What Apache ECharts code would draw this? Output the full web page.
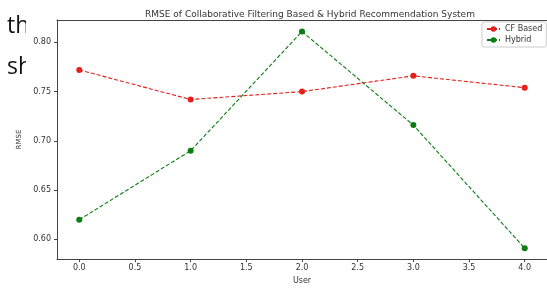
<!DOCTYPE html>
<html>
<head>
<meta charset="utf-8">
<script src="https://cdn.jsdelivr.net/npm/echarts@6/dist/echarts.min.js"></script>
<style>
  html, body { margin: 0; padding: 0; background: #fff; }
  #main { width: 547px; height: 290px; }
</style>
</head>
<body>
<div id="main"></div>
<script>
// data
var users = [0, 1, 2, 3, 4];
var cfBased = [0.772, 0.742, 0.750, 0.766, 0.754];
var hybrid = [0.620, 0.690, 0.811, 0.716, 0.591];
var xTicks = [0.0, 0.5, 1.0, 1.5, 2.0, 2.5, 3.0, 3.5, 4.0];
var yTicks = [0.60, 0.65, 0.70, 0.75, 0.80];

function pairs(xs, ys) {
  var out = [];
  for (var i = 0; i < xs.length; i++) out.push([xs[i], ys[i]]);
  return out;
}

var chart = echarts.init(document.getElementById('main'));
var font = 'DejaVu Sans';
var option = {
  backgroundColor: '#fff',
  animation: false,
  title: {
    text: 'RMSE of Collaborative Filtering Based & Hybrid Recommendation System',
    left: 305, top: 5, textAlign: 'center',
    textStyle: { fontFamily: font, fontSize: 9, fontWeight: 'normal', color: '#333' }
  },
  graphic: [
    { type: 'text', left: 7, top: 15, z: -3,
      style: { text: 'the', font: '23px "Open Sans"', fill: '#111' } },
    { type: 'text', left: 7, top: 56, z: -3,
      style: { text: 'show', font: '23px "Open Sans"', fill: '#111' } },
    { type: 'rect', left: 26, top: 0, z: -2,
      shape: { width: 521, height: 290 }, style: { fill: '#fff' } }
  ],
  legend: {
    orient: 'vertical', left: 482, top: 22,
    itemWidth: 13, itemHeight: 7, itemGap: 3,
    padding: [3, 4, 3, 4],
    backgroundColor: '#fff', borderColor: '#ccc', borderWidth: 1, borderRadius: 2,
    textStyle: { fontFamily: font, fontSize: 8, color: '#333' },
    data: ['CF Based', 'Hybrid']
  },
  grid: { left: 57, right: 0, top: 20, bottom: 24 },
  xAxis: [{
    type: 'value', min: -0.2, max: 4.2,
    name: 'User', nameLocation: 'middle', nameGap: 16,
    nameTextStyle: { fontFamily: font, fontSize: 8, color: '#333' },
    axisLine: { onZero: false, lineStyle: { color: '#444' } },
    axisTick: { show: true, length: 3, customValues: xTicks, lineStyle: { color: '#444' } },
    axisLabel: { customValues: xTicks, fontFamily: font, fontSize: 8, color: '#333', margin: 5,
      formatter: function (v) { return v.toFixed(1); } },
    splitLine: { show: false }
  }, {
    // top spine only
    type: 'value', position: 'top', min: -0.2, max: 4.2,
    axisLine: { show: true, onZero: false, lineStyle: { color: '#444' } },
    axisTick: { show: false }, axisLabel: { show: false }, splitLine: { show: false }
  }],
  yAxis: {
    type: 'value', min: 0.58, max: 0.8227,
    name: 'RMSE', nameLocation: 'middle', nameGap: 27,
    nameTextStyle: { fontFamily: font, fontSize: 7, color: '#333' },
    axisLine: { show: true, onZero: false, lineStyle: { color: '#444' } },
    axisTick: { show: true, length: 3, customValues: yTicks, lineStyle: { color: '#444' } },
    axisLabel: { customValues: yTicks, fontFamily: font, fontSize: 8, color: '#333', margin: 6,
      formatter: function (v) { return v.toFixed(2); } },
    splitLine: { show: false }
  },
  series: [
    {
      name: 'CF Based', type: 'line', data: pairs(users, cfBased),
      symbol: 'circle', symbolSize: 6,
      itemStyle: { color: '#e3201c' },
      lineStyle: { color: '#e3201c', width: 1.1, type: [4, 2] }
    },
    {
      name: 'Hybrid', type: 'line', data: pairs(users, hybrid),
      symbol: 'circle', symbolSize: 6,
      itemStyle: { color: '#0b7d12' },
      lineStyle: { color: '#0b7d12', width: 1.1, type: [4, 2] }
    }
  ]
};
chart.setOption(option);
</script>
</body>
</html>
